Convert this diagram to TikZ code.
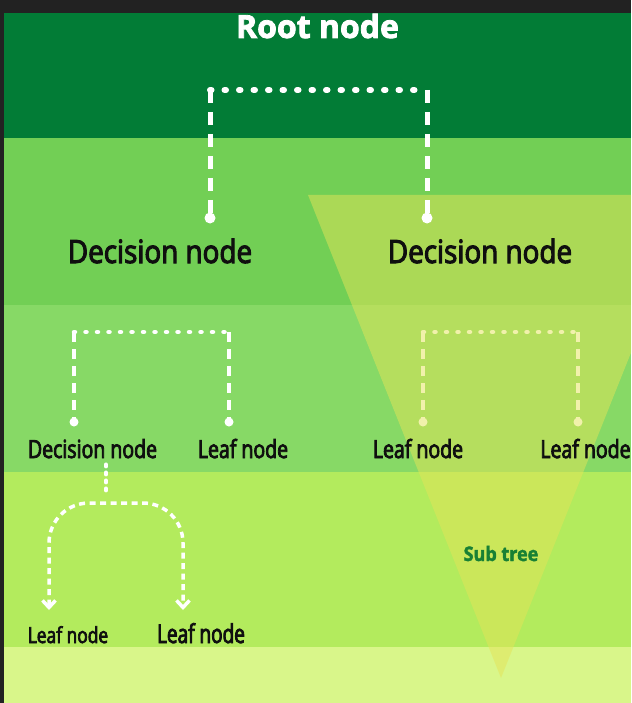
\documentclass[tikz,border=0pt]{standalone}
\usepackage{fontspec}
\setmainfont{Open Sans}
\newfontfamily\fRoot[FakeBold=2.5]{Open Sans}
\newfontfamily\fDecA[FakeStretch=0.87,FakeBold=3.2]{Open Sans}
\newfontfamily\fLvlB[FakeStretch=0.78,FakeBold=3.2]{Open Sans}
\newfontfamily\fLeafS[FakeStretch=0.79,FakeBold=3.2]{Open Sans}
\newfontfamily\fLeafB[FakeStretch=0.73,FakeBold=3.2]{Open Sans}
\newfontfamily\fSub[FakeStretch=0.9,FakeBold=2]{Open Sans}
\usetikzlibrary{arrows.meta}
\definecolor{frameDark}{RGB}{34,34,34}
\definecolor{bandA}{RGB}{2,124,54}
\definecolor{bandB}{RGB}{114,207,85}
\definecolor{bandC}{RGB}{135,217,102}
\definecolor{bandD}{RGB}{179,235,93}
\definecolor{bandE}{RGB}{217,246,138}
\definecolor{triYel}{RGB}{228,228,88}
\definecolor{subGreen}{RGB}{24,128,52}
\definecolor{txtDark}{RGB}{15,15,15}
\tikzset{
  lbl/.style={anchor=base, inner sep=0pt, text=txtDark},
  hdotA/.style={draw=white, line width=6, line cap=round, dash pattern=on 1.5 off 13},
  vdashA/.style={draw=white, line width=5, dash pattern=on 13 off 9},
  hdotB/.style={line width=4.5, line cap=round, dash pattern=on 1 off 10.5},
  vdashB/.style={line width=4.5, dash pattern=on 10 off 7},
  arcC/.style={draw=white, line width=3.5, dash pattern=on 6 off 4.5, rounded corners=40,
     {Straight Barb[length=7,width=13]}-{Straight Barb[length=7,width=13]}},
  dotA/.style={fill=white, circle, inner sep=0pt, minimum size=11},
  dotB/.style={circle, inner sep=0pt, minimum size=9},
}
\begin{document}
\begin{tikzpicture}[x=1pt, y=-1pt]
\useasboundingbox (0,0) rectangle (631,703);
\begin{scope}
\clip (0,0) rectangle (631,703);
% frame and bands
\fill[frameDark] (0,0) rectangle (631,703);
\fill[bandA] (4,13) rectangle (631,138);
\fill[bandB] (4,138) rectangle (631,305);
\fill[bandC] (4,305) rectangle (631,472);
\fill[bandD] (4,472) rectangle (631,647);
\fill[bandE] (4,647) rectangle (631,703);

% right level-2 bracket (under the sub tree triangle)
\coordinate (rbL) at (423,332);
\coordinate (rbR) at (578,332);
\node[dotB, fill=white] (rdL) at (423,422) {};
\node[dotB, fill=white] (rdR) at (578,422) {};
\draw[hdotB, draw=white] (rbL) -- (rbR);
\draw[vdashB, draw=white] (rbL) -- (rdL.center);
\draw[vdashB, draw=white] (rbR) -- (rdR.center);

% sub tree triangle
\fill[triYel, opacity=0.5] (308,195) -- (694,195) -- (501,678) -- cycle;

% root connector
\coordinate (rtL) at (210,90);
\coordinate (rtR) at (427,90);
\node[dotA] (d1dot) at (210,218) {};
\node[dotA] (d2dot) at (427,218) {};
\draw[hdotA] (rtL) -- (rtR);
\draw[vdashA] (rtL) -- (d1dot.center);
\draw[vdashA] (rtR) -- (d2dot.center);

% left level-2 bracket
\coordinate (lbL) at (74,332);
\coordinate (lbR) at (229,332);
\node[dotB, fill=white] (ldL) at (74,422) {};
\node[dotB, fill=white] (ldR) at (229,422) {};
\draw[hdotB, draw=white] (lbL) -- (lbR);
\draw[vdashB, draw=white] (lbL) -- (ldL.center);
\draw[vdashB, draw=white] (lbR) -- (ldR.center);

% texts
\node[lbl, text=white] (root) at (317.5,38) {\fRoot\bfseries\fontsize{32}{32}\selectfont Root node};
\node[lbl] (dec1) at (160,263) {\fDecA\fontsize{32}{32}\selectfont Decision node};
\node[lbl] (dec2) at (480,263) {\fDecA\fontsize{32}{32}\selectfont Decision node};
\node[lbl] (dec3) at (92.5,458) {\fLvlB\fontsize{25}{25}\selectfont Decision node};
\node[lbl] (leaf1) at (243,458) {\fLvlB\fontsize{25}{25}\selectfont Leaf node};
\node[lbl] (leaf2) at (418,458) {\fLvlB\fontsize{25}{25}\selectfont Leaf node};
\node[lbl] (leaf3) at (585.5,458) {\fLvlB\fontsize{25}{25}\selectfont Leaf node};
\node[lbl] (leaf4) at (68,643) {\fLeafS\fontsize{22}{22}\selectfont Leaf node};
\node[lbl] (leaf5) at (201,643) {\fLeafB\fontsize{26}{26}\selectfont Leaf node};
\node[lbl, text=subGreen] (sub) at (501,561) {\fSub\bfseries\fontsize{20}{20}\selectfont Sub tree};

% level-3 connector
\coordinate (stubEnd) at (106,494);
\coordinate (arcL) at (49,610);
\coordinate (arcR) at (183,610);
\draw[draw=white, line width=4, line cap=round, dash pattern=on 2 off 6] (dec3.south -| stubEnd) ++(0,6) -- (stubEnd);
\draw[arcC] (arcL) -- (49,503) -- (183,503) -- (arcR);
\end{scope}
\end{tikzpicture}
\end{document}
